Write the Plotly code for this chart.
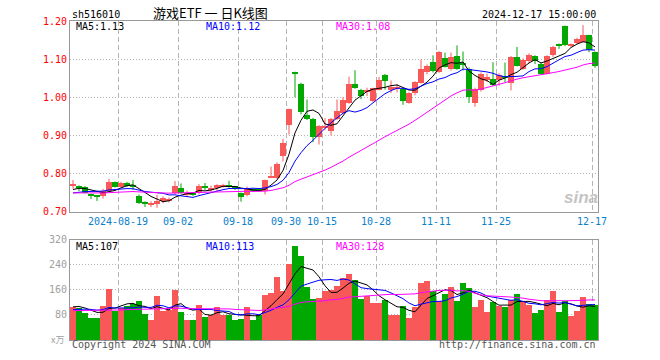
import pandas as pd
import plotly.graph_objects as go

# ---------------- data ----------------
holidays = ["2024-09-16", "2024-09-17", "2024-10-01", "2024-10-02", "2024-10-03",
            "2024-10-04", "2024-10-07"]
dates = [d for d in pd.bdate_range("2024-08-07", "2024-12-17") if d.strftime("%Y-%m-%d") not in holidays]

open_ = [0.769, 0.766, 0.764, 0.746, 0.741, 0.742, 0.755, 0.778, 0.765, 0.775,
         0.768, 0.742, 0.723, 0.719, 0.721, 0.727, 0.727, 0.748, 0.763, 0.746,
         0.746, 0.748, 0.765, 0.758, 0.763, 0.765, 0.770, 0.766, 0.748, 0.744,
         0.757, 0.758, 0.754, 0.789, 0.788, 0.845, 0.928, 1.067, 1.035, 0.954,
         0.944, 0.897, 0.920, 0.911, 0.944, 0.959, 0.985, 1.036, 1.018, 1.014,
         0.990, 1.020, 1.058, 1.019, 1.023, 1.022, 0.985, 1.010, 1.038, 1.066,
         1.092, 1.066, 1.104, 1.073, 1.108, 1.088, 1.075, 0.985, 1.018, 1.047,
         1.047, 1.044, 1.056, 1.038, 1.106, 1.075, 1.095, 1.108, 1.088, 1.062,
         1.110, 1.139, 1.188, 1.137, 1.143, 1.146, 1.162, 1.118]
high = [0.783, 0.769, 0.767, 0.747, 0.742, 0.760, 0.786, 0.779, 0.778, 0.778,
        0.783, 0.745, 0.727, 0.727, 0.744, 0.740, 0.737, 0.780, 0.774, 0.755,
        0.748, 0.772, 0.775, 0.768, 0.772, 0.773, 0.781, 0.767, 0.750, 0.766,
        0.760, 0.762, 0.784, 0.818, 0.829, 0.891, 0.970, 1.067, 1.038, 0.994,
        0.946, 0.927, 0.945, 0.946, 0.994, 1.000, 1.054, 1.071, 1.022, 1.025,
        1.025, 1.053, 1.061, 1.044, 1.035, 1.024, 1.013, 1.042, 1.099, 1.086,
        1.110, 1.121, 1.117, 1.117, 1.136, 1.120, 1.078, 1.025, 1.065, 1.062,
        1.092, 1.063, 1.091, 1.108, 1.132, 1.102, 1.115, 1.110, 1.091, 1.110,
        1.135, 1.141, 1.188, 1.141, 1.156, 1.189, 1.164, 1.120]
low = [0.760, 0.754, 0.748, 0.733, 0.728, 0.734, 0.752, 0.763, 0.763, 0.765,
       0.757, 0.720, 0.712, 0.712, 0.710, 0.722, 0.724, 0.746, 0.747, 0.740,
       0.741, 0.745, 0.757, 0.752, 0.752, 0.763, 0.763, 0.757, 0.726, 0.740,
       0.752, 0.753, 0.745, 0.788, 0.786, 0.832, 0.902, 1.000, 0.955, 0.940,
       0.882, 0.876, 0.915, 0.900, 0.940, 0.955, 0.983, 1.022, 0.995, 1.003,
       0.988, 1.018, 1.020, 1.011, 1.013, 0.980, 0.983, 1.005, 1.036, 1.060,
       1.065, 1.064, 1.078, 1.070, 1.072, 1.070, 0.985, 0.975, 1.015, 1.040,
       1.030, 1.030, 1.040, 1.018, 1.081, 1.072, 1.090, 1.087, 1.060, 1.060,
       1.106, 1.127, 1.134, 1.132, 1.139, 1.144, 1.118, 1.077]
close = [0.771, 0.764, 0.750, 0.741, 0.739, 0.754, 0.778, 0.765, 0.775, 0.767,
         0.766, 0.722, 0.721, 0.723, 0.727, 0.737, 0.734, 0.768, 0.749, 0.748,
         0.744, 0.768, 0.763, 0.760, 0.770, 0.771, 0.765, 0.764, 0.739, 0.759,
         0.755, 0.756, 0.783, 0.794, 0.826, 0.880, 0.970, 1.062, 0.960, 0.944,
         0.897, 0.925, 0.923, 0.944, 0.963, 0.994, 1.036, 1.025, 1.004, 1.017,
         1.023, 1.044, 1.042, 1.026, 1.026, 0.990, 1.010, 1.040, 1.075, 1.083,
         1.068, 1.118, 1.080, 1.105, 1.074, 1.085, 1.000, 1.022, 1.060, 1.052,
         1.032, 1.058, 1.050, 1.105, 1.083, 1.099, 1.112, 1.094, 1.062, 1.108,
         1.132, 1.137, 1.136, 1.139, 1.153, 1.163, 1.123, 1.082]
volume = [106, 103, 88, 72, 72, 108, 164, 94, 103, 108,
          116, 126, 83, 66, 142, 92, 97, 159, 91, 66,
          63, 113, 75, 79, 105, 79, 81, 66, 69, 105,
          66, 81, 143, 152, 203, 156, 244, 302, 268, 171,
          133, 136, 158, 161, 174, 200, 213, 193, 132, 142,
          120, 120, 129, 81, 81, 110, 72, 107, 183, 190,
          156, 124, 149, 171, 126, 183, 168, 105, 129, 91,
          121, 110, 107, 128, 148, 121, 113, 88, 97, 128,
          158, 91, 124, 76, 94, 139, 115, 111]

# estimated history before the visible window (needed for the moving averages)
prior_close = [0.752, 0.748, 0.745, 0.750, 0.755, 0.753, 0.749, 0.746, 0.744, 0.747,
               0.751, 0.754, 0.750, 0.746, 0.743, 0.748, 0.752, 0.750, 0.747, 0.750,
               0.742, 0.738, 0.736, 0.741, 0.743, 0.748, 0.753, 0.757, 0.761]
prior_volume = [95, 88, 102, 80, 91, 110, 85, 93, 76, 99,
                104, 87, 90, 96, 82, 98, 89, 94, 101, 90,
                84, 92, 80, 95, 89, 98, 112, 104, 110]

tick_dates = ["2024-08-19", "2024-09-02", "2024-09-18", "2024-09-30", "2024-10-15",
              "2024-10-28", "2024-11-11", "2024-11-25", "2024-12-17"]
tick_text = ["2024-08-19", "09-02", "09-18", "09-30", "10-15", "10-28", "11-11", "11-25", "12-17"]

# ---------------- derived ----------------
n = len(close)
xs = list(range(n))
ds = [d.strftime("%Y-%m-%d") for d in dates]
tickvals = [ds.index(t) - 0.5 for t in tick_dates]

fc = pd.Series(prior_close + close)
fv = pd.Series(prior_volume + volume)
ma = {k: fc.rolling(k).mean().tolist()[-n:] for k in (5, 10, 30)}
vma = {k: fv.rolling(k).mean().tolist()[-n:] for k in (5, 10, 30)}

RED = "#f85858"
GREEN = "#00a800"
up = [c >= o for o, c in zip(open_, close)]

fig = go.Figure()

# wicks
for flag, col in ((True, RED), (False, GREEN)):
    wx, wy = [], []
    for i in xs:
        if up[i] == flag:
            wx += [i, i, None]
            wy += [low[i], high[i], None]
    fig.add_trace(go.Scatter(x=wx, y=wy, mode="lines", line=dict(color=col, width=1),
                             xaxis="x", yaxis="y", hoverinfo="skip"))

# bodies
MINH = 0.0028
for flag, col in ((True, RED), (False, GREEN)):
    bx = [i for i in xs if up[i] == flag]
    base = [min(open_[i], close[i]) for i in bx]
    hgt = [max(abs(close[i] - open_[i]), MINH) for i in bx]
    fig.add_trace(go.Bar(x=bx, y=hgt, base=base, width=0.84, marker=dict(color=col, line=dict(width=0)),
                         xaxis="x", yaxis="y"))

# price MAs
for k, col in ((5, "#000000"), (10, "#0000ff"), (30, "#ff00ff")):
    fig.add_trace(go.Scatter(x=xs, y=ma[k], mode="lines", line=dict(color=col, width=1),
                             xaxis="x", yaxis="y"))

# volume bars
for flag, col in ((True, RED), (False, GREEN)):
    bx = [i for i in xs if up[i] == flag]
    fig.add_trace(go.Bar(x=bx, y=[volume[i] for i in bx], width=0.84,
                         marker=dict(color=col, line=dict(width=0)), xaxis="x2", yaxis="y2"))
for k, col in ((5, "#000000"), (10, "#0000ff"), (30, "#ff00ff")):
    fig.add_trace(go.Scatter(x=xs, y=vma[k], mode="lines", line=dict(color=col, width=1),
                             xaxis="x2", yaxis="y2"))

MONO = "DejaVu Sans Mono"
L, R, T, B = 70, 62, 20.5, 19.5
W, H = 660, 360
PW, PH = W - L - R, H - T - B


def px(x):
    return (x - L) / PW


def py(y):
    return (H - B - y) / PH


main_dom = [py(211.7), 1.0]
vol_dom = [0.0, py(240)]

axis_common = dict(showline=True, linecolor="#999999", linewidth=1, mirror=True,
                   zeroline=False, ticks="")
fig.update_layout(
    width=W, height=H, margin=dict(l=L, r=R, t=T, b=B, autoexpand=False),
    paper_bgcolor="white", plot_bgcolor="white", showlegend=False, barmode="overlay",
    bargap=0,
    xaxis=dict(domain=[0, 1], range=[-0.5, n - 0.5], tickvals=tickvals, ticktext=tick_text,
               showgrid=True, gridcolor="#b4b4b4", griddash="5px,3px", gridwidth=1,
               tickfont=dict(family=MONO, size=10, color="#0a80cc"), anchor="y", **axis_common),
    yaxis=dict(domain=main_dom, range=[0.70, 1.20], tickvals=[0.7, 0.8, 0.9, 1.0, 1.1, 1.2],
               ticktext=["0.70", "0.80", "0.90", "1.00", "1.10", "1.20"],
               showgrid=True, gridcolor="#b4b4b4", griddash="1px,2px", gridwidth=1,
               tickfont=dict(family=MONO, size=10, color="#ff0000"), anchor="x", **axis_common),
    xaxis2=dict(domain=[0, 1], range=[-0.5, n - 0.5], tickvals=tickvals, showticklabels=False,
                showgrid=True, gridcolor="#b4b4b4", griddash="5px,3px", gridwidth=1,
                anchor="y2", matches="x", **axis_common),
    yaxis2=dict(domain=vol_dom, range=[0, 320], tickvals=[80, 160, 240, 320],
                showgrid=True, gridcolor="#b4b4b4", griddash="1px,2px", gridwidth=1,
                tickfont=dict(family=MONO, size=10, color="#a0a0a0"), anchor="x2", **axis_common),
)


def txt(x, y, s, color="#000000", anchor="left", size=10, family=MONO):
    fig.add_annotation(xref="paper", yref="paper", x=px(x), y=py(y), text=s, showarrow=False,
                       xanchor=anchor, yanchor="middle", font=dict(family=family, size=size, color=color))


def trunc2(v):
    return int(v * 100) / 100


txt(70, 13.5, "sh516010")
txt(210, 11.5, "游戏ETF 一 日K线图", anchor="center", size=13, family="Noto Sans CJK SC")
txt(598, 13.5, "2024-12-17 15:00:00", anchor="right")

txt(74, 26.5, "MA5:%.2f" % trunc2(ma[5][-1]))
txt(204, 26.5, "MA10:%.2f" % trunc2(ma[10][-1]), color="#0000ff")
txt(334, 26.5, "MA30:%.2f" % trunc2(ma[30][-1]), color="#ff00ff")

txt(74, 246.5, "MA5:%d" % int(vma[5][-1]))
txt(204, 246.5, "MA10:%d" % int(vma[10][-1]), color="#0000ff")
txt(334, 246.5, "MA30:%d" % int(vma[30][-1]), color="#ff00ff")

txt(70, 345.5, "Copyright 2024 SINA.COM", color="#555555")
txt(598, 345.5, "http://finance.sina.com.cn", color="#555555", anchor="right")
txt(49, 339.5, "x万", color="#a0a0a0", size=9, family="Noto Sans CJK SC")
txt(581, 198, "<b><i>sina</i></b>", color="#c4c4c4", anchor="center", size=17, family="Liberation Sans")

fig.write_html("out.html", config={"displayModeBar": False},
               post_script="document.body.style.margin='0';")
